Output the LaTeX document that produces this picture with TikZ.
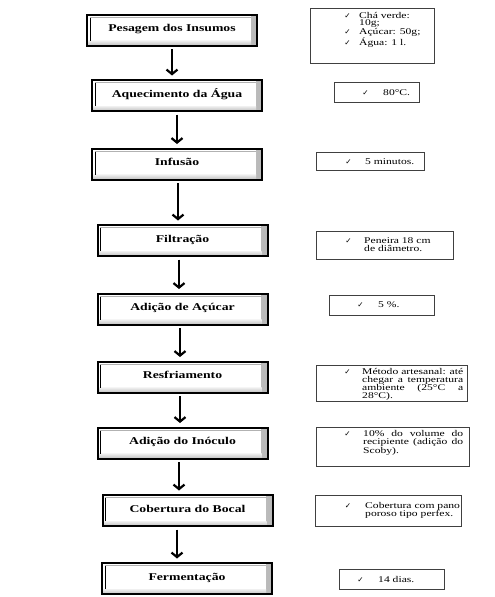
\documentclass[tikz,border=0pt]{standalone}
\usepackage{fontspec}
\setmainfont{Liberation Serif}[FakeStretch=1.32]
\newfontfamily\chkfont{DejaVu Sans}
\usetikzlibrary{arrows.meta}
\newcommand{\ck}[1]{\leavevmode\llap{{\chkfont\fontsize{7.5}{7.5}\selectfont ✓}\hspace{#1}}}
\tikzset{
  stepbox/.style={draw=black, line width=2pt, fill=white, minimum width=170pt,
    minimum height=31pt, inner sep=0pt, font=\fontsize{10.4}{12}\selectfont\bfseries,
    text height=5pt, text depth=2pt,
    path picture={
      \shade[left color=gray!12,right color=gray!55]
        ([xshift=-6pt]path picture bounding box.south east) rectangle (path picture bounding box.north east);
      \shade[top color=gray!12,bottom color=gray!50]
        (path picture bounding box.south west) rectangle ([xshift=-6pt,yshift=5pt]path picture bounding box.south east);
      \draw[black,line width=0.5pt]
        ([xshift=2.8pt,yshift=5pt]path picture bounding box.south west) -- ([xshift=2.8pt,yshift=-2.6pt]path picture bounding box.north west);
      \draw[gray!60,line width=0.5pt]
        ([xshift=2.8pt,yshift=-2.6pt]path picture bounding box.north west) -- ([xshift=-6pt,yshift=-2.6pt]path picture bounding box.north east);
    }},
  rbox/.style={draw=black!75, line width=0.6pt, fill=white, inner sep=0pt},
  rtext/.style={anchor=base west, inner sep=0pt, font=\fontsize{8.8}{8.3}\selectfont},
  flow/.style={line width=2.2pt, -{Straight Barb[length=4.5pt,width=11pt]},
    shorten <=2.5pt, shorten >=3.5pt}
}
\begin{document}
\begin{tikzpicture}[x=1pt,y=-1pt]
\useasboundingbox (0,0) rectangle (495,597);
\fill[white] (0,0) rectangle (495,597);

% left process boxes
\node[stepbox] (L1) at (172,30) {Pesagem dos Insumos};
\node[stepbox] (L2) at (177,95.5) {Aquecimento da Água};
\node[stepbox] (L3) at (177,164) {Infusão};
\node[stepbox] (L4) at (182.5,240.5) {Filtração};
\node[stepbox] (L5) at (182.5,309) {Adição de Açúcar};
\node[stepbox] (L6) at (182.5,377) {Resfriamento};
\node[stepbox] (L7) at (182.5,443) {Adição do Inóculo};
\node[stepbox] (L8) at (187.5,510.5) {Cobertura do Bocal};
\node[stepbox] (L9) at (187,578.5) {Fermentação};

% arrows
\draw[flow] (L1.south) coordinate (a1) -- (a1 |- L2.north);
\draw[flow] (L2.south) coordinate (a2) -- (a2 |- L3.north);
\draw[flow] ([xshift=1pt]L3.south) coordinate (a3) -- (a3 |- L4.north);
\draw[flow] ([xshift=-3.5pt]L4.south) coordinate (a4) -- (a4 |- L5.north);
\draw[flow] ([xshift=-2.5pt]L5.south) coordinate (a5) -- (a5 |- L6.north);
\draw[flow] ([xshift=-2.5pt]L6.south) coordinate (a6) -- (a6 |- L7.north);
\draw[flow] ([xshift=-3.5pt]L7.south) coordinate (a7) -- (a7 |- L8.north);
\draw[flow] ([xshift=-10.5pt]L8.south) coordinate (a8) -- (a8 |- L9.north);

% right detail boxes
\node[rbox, minimum width=124pt, minimum height=55pt] (R1) at (372,35.5) {};
\node[rbox, minimum width=85pt, minimum height=20pt] (R2) at (376.5,92) {};
\node[rbox, minimum width=108pt, minimum height=18pt] (R3) at (370,161) {};
\node[rbox, minimum width=137pt, minimum height=28pt] (R4) at (384.5,245) {};
\node[rbox, minimum width=105pt, minimum height=20pt] (R5) at (381.5,305) {};
\node[rbox, minimum width=151pt, minimum height=36pt] (R6) at (391.5,383) {};
\node[rbox, minimum width=153pt, minimum height=39pt] (R7) at (392.5,446.5) {};
\node[rbox, minimum width=146pt, minimum height=31pt] (R8) at (388,510.5) {};
\node[rbox, minimum width=105pt, minimum height=20pt] (R9) at (391.5,579) {};

% texts of the detail boxes
\node[rtext, font=\fontsize{8.8}{7.8}\selectfont] (T1) at (359,18)
  {\parbox[t]{80pt}{\raggedright\ck{8.5pt}Chá verde:\\10g;\\\ck{8.5pt}Açúcar: 50g;\\\ck{8.5pt}Água: 1 l.}};
\node[rtext] (T2) at (383,95) {\ck{14.5pt}80°C.};
\node[rtext] (T3) at (365,164) {\ck{13.5pt}5 minutos.};
\node[rtext, font=\fontsize{8.8}{8.6}\selectfont] (T4) at (364,243)
  {\parbox[t]{85pt}{\raggedright\ck{12.5pt}Peneira 18 cm\\de diâmetro.}};
\node[rtext] (T5) at (378,307) {\ck{14.5pt}5 \%.};
\node[rtext, font=\fontsize{8.8}{8.1}\selectfont] (T6) at (362,374)
  {\parbox[t]{101pt}{\ck{11.5pt}Método artesanal: até\linebreak chegar a temperatura\linebreak ambiente (25°C a\linebreak 28°C).}};
\node[rtext, font=\fontsize{8.8}{8.8}\selectfont] (T7) at (363,436)
  {\parbox[t]{100pt}{\ck{12.5pt}10\% do volume do\linebreak recipiente (adição do\linebreak Scoby).}};
\node[rtext, font=\fontsize{8.8}{8.2}\selectfont] (T8) at (365,508)
  {\parbox[t]{95pt}{\raggedright\ck{14pt}Cobertura com pano\\poroso tipo perfex.}};
\node[rtext] (T9) at (378,582) {\ck{14.5pt}14 dias.};
\end{tikzpicture}
\end{document}
